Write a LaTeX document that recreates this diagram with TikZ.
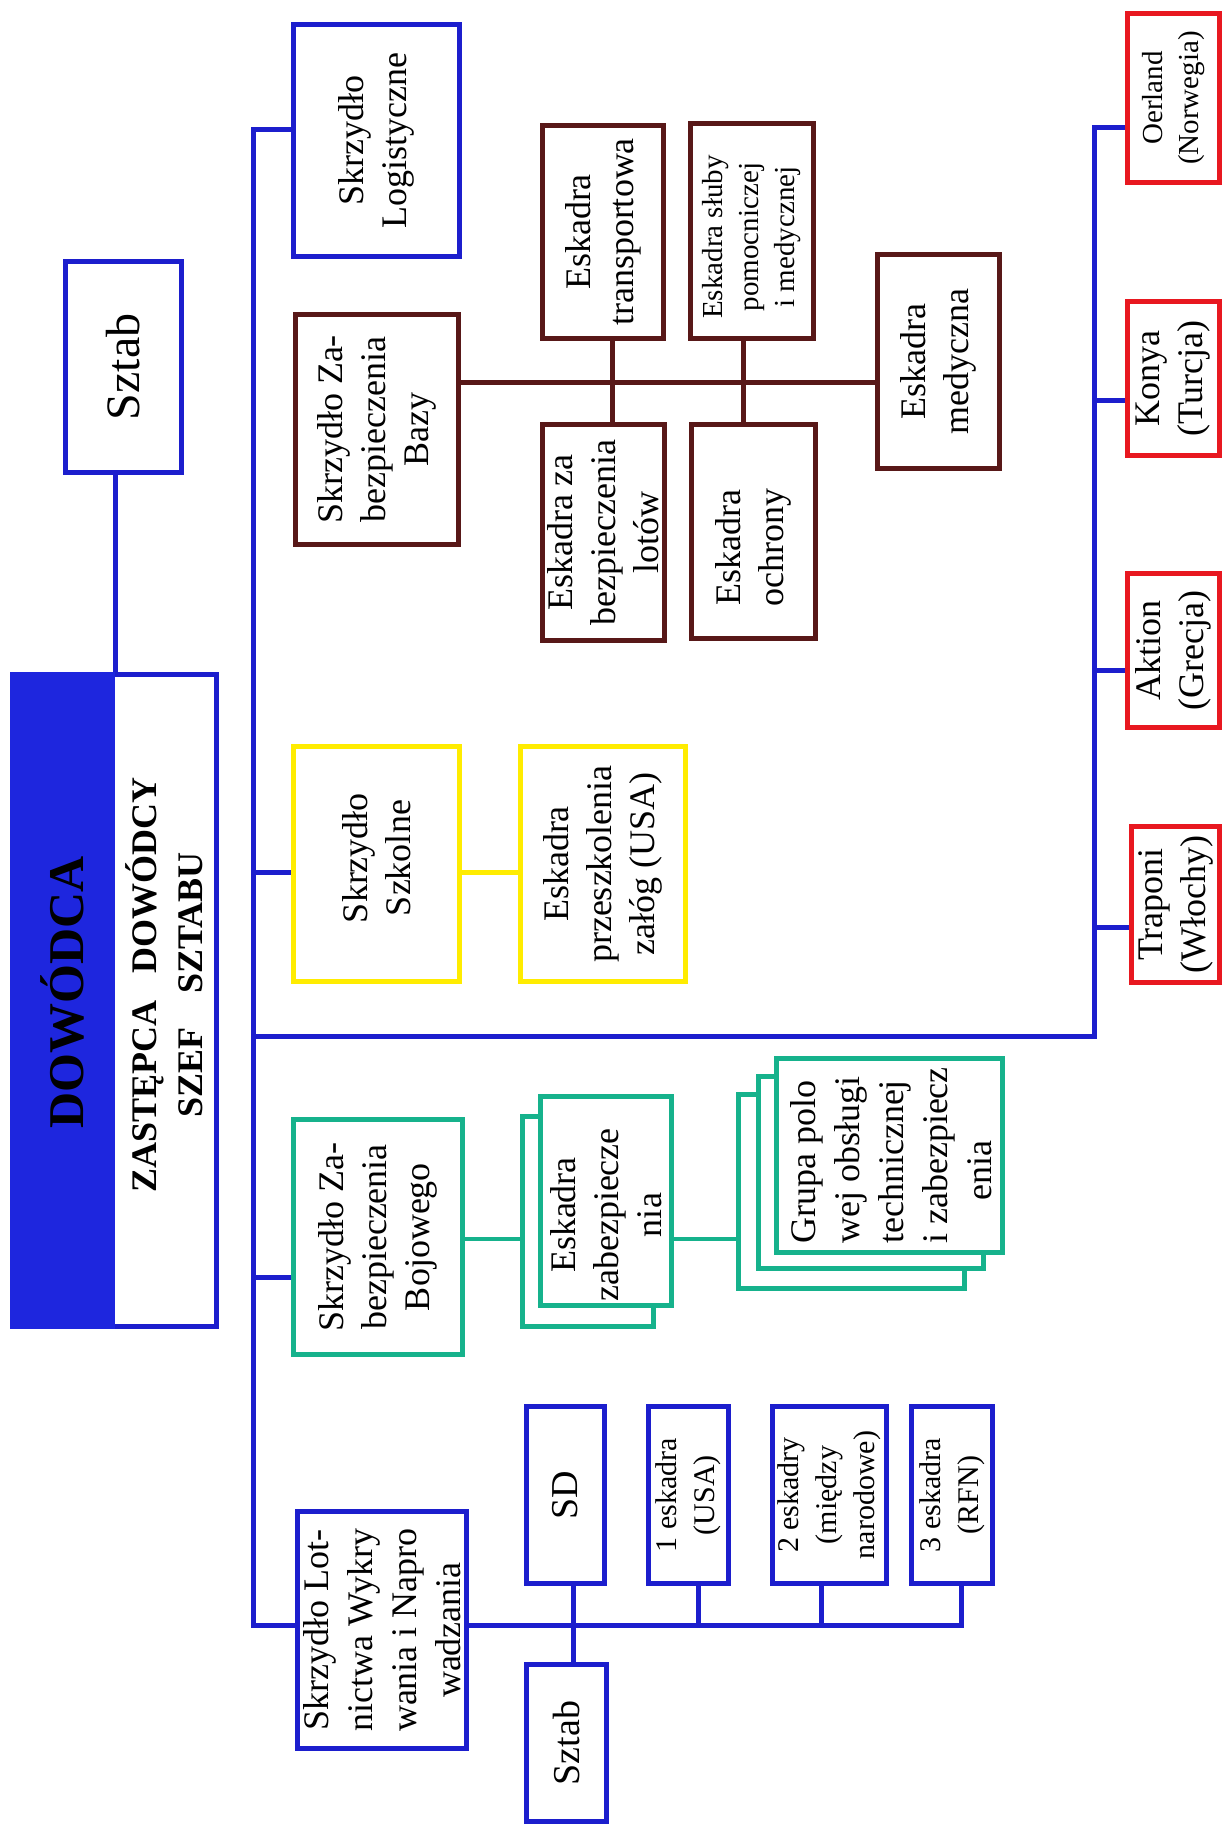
\documentclass[tikz,border=0pt]{standalone}
\usepackage{fontspec}
\setmainfont{Liberation Serif}
\usetikzlibrary{calc}

\definecolor{orgblue}{RGB}{28,30,205}
\definecolor{dowblue}{RGB}{30,38,222}
\definecolor{bazabrown}{RGB}{88,24,24}
\definecolor{szkyellow}{RGB}{255,236,0}
\definecolor{bojteal}{RGB}{22,178,140}
\definecolor{basered}{RGB}{232,24,32}

\tikzset{
  unit/.style={draw, line width=5pt, fill=white, inner sep=0pt},
  bluebox/.style={unit, draw=orgblue},
  brownbox/.style={unit, draw=bazabrown},
  yellowbox/.style={unit, draw=szkyellow},
  tealbox/.style={unit, draw=bojteal, line width=4.5pt},
  redbox/.style={unit, draw=basered},
  dowpart/.style={draw=dowblue, fill=dowblue, line width=5pt, inner sep=0pt},
  lbl/.style={rotate=90, align=center, inner sep=0pt, font=\fontsize{36}{43}\selectfont},
  lblsmall/.style={font=\fontsize{30}{38}\selectfont},
  lbltiny/.style={font=\fontsize{29}{36}\selectfont},
  lblbig/.style={font=\fontsize{48}{56}\selectfont},
  bline/.style={draw=orgblue, line width=5pt},
  brline/.style={draw=bazabrown, line width=5pt},
  yline/.style={draw=szkyellow, line width=5pt},
  tline/.style={draw=bojteal, line width=4pt},
}

% \orgbox{style}{name}{x1}{y1}{x2}{y2}{label style}{text}{label shift}
\newcommand\orgbox[9]{%
  \pgfmathsetmacro\bw{#5-#3-5}%
  \pgfmathsetmacro\bh{#6-#4-5}%
  \node[#1, minimum width=\bw pt, minimum height=\bh pt] (#2) at ({(#3+#5)/2},{(#4+#6)/2}) {};%
  \node[lbl, #7] (#2-t) at ($(#2.center)+(#9)$) {#8};%
}

\begin{document}
\begin{tikzpicture}[x=1pt, y=-1pt]
\useasboundingbox[fill=white] (0,0) rectangle (1226,1828);

% ---- command ----
\orgbox{bluebox}{sztabA}{63}{259}{184}{475}{lblbig}{Sztab}{0,0}
\orgbox{bluebox}{dow}{10}{672}{219}{1329}{}{}{0,0}
\node[dowpart, minimum width=100pt, minimum height=652pt] (dowfill) at (62.5,1000.5) {};
\node[rotate=90, inner sep=0pt, font=\bfseries\fontsize{50}{60}\selectfont] (dowt) at ($(dowfill.center)+(0,-8)$) {DOWÓDCA};
\node[rotate=90, align=center, inner sep=0pt, font=\bfseries\fontsize{36}{46}\selectfont] (zast) at (164,985)
  {ZASTĘPCA\hspace{0.5em} DOWÓDCY\\SZEF\hspace{0.7em} SZTABU};
\draw[bline] (dowfill.north east) -- (dowfill.north east |- sztabA.south);

% ---- wings ----
\orgbox{bluebox}{log}{291}{22}{462}{259}{}{Skrzydło\\Logistyczne}{0,0}

\orgbox{brownbox}{baz}{293}{312}{461}{547}{}{Skrzydło Za-\\bezpieczenia\\Bazy}{0,0}
\orgbox{brownbox}{tra}{540}{123}{666}{341}{}{Eskadra\\transportowa}{0,0}
\orgbox{brownbox}{lotw}{540}{422}{667}{643}{}{Eskadra za\\bezpieczenia\\lotów}{0,0}
\orgbox{brownbox}{slu}{688}{121}{816}{341}{lbltiny}{Eskadra słuby\\pomocniczej\\i medycznej}{0,6}
\orgbox{brownbox}{och}{689}{422}{818}{641}{}{Eskadra\\ochrony}{0,16}
\orgbox{brownbox}{med}{875}{252}{1002}{471}{}{Eskadra\\medyczna}{0,0}

\orgbox{yellowbox}{szk}{291}{744}{462}{984}{}{Skrzydło\\Szkolne}{0,-6}
\orgbox{yellowbox}{prz}{518}{744}{688}{984}{}{Eskadra\\przeszkolenia\\załóg (USA)}{0,0}

\orgbox{tealbox}{boj}{291}{1117}{465}{1357}{}{Skrzydło Za-\\bezpieczenia\\Bojowego}{0,0}
\orgbox{tealbox}{ezbB}{520}{1114}{656}{1329}{}{}{0,0}
\orgbox{tealbox}{ezb}{538}{1094}{674}{1308}{}{Eskadra\\zabezpiecze\\nia}{0,14}
\orgbox{tealbox}{grpC}{736}{1092}{967}{1291}{}{}{0,0}
\orgbox{tealbox}{grpB}{756}{1074}{986}{1271}{}{}{0,0}
\orgbox{tealbox}{grp}{774}{1056}{1005}{1255}{align=left, font=\fontsize{36}{44}\selectfont}%
  {Grupa polo\\wej obsługi\\technicznej\\i zabezpiecz\\\hspace*{43pt}enia}{2,0}

\orgbox{bluebox}{lot}{295}{1509}{469}{1751}{font=\fontsize{36}{44}\selectfont}%
  {Skrzydło Lot-\\nictwa Wykry\\wania i Napro\\wadzania}{0,0}
\orgbox{bluebox}{sd}{524}{1404}{607}{1586}{font=\fontsize{38}{44}\selectfont}{SD}{0,0}
\orgbox{bluebox}{sztabB}{524}{1662}{609}{1824}{font=\fontsize{38}{44}\selectfont}{Sztab}{0,0}
\orgbox{bluebox}{esk1}{646}{1404}{731}{1586}{lblsmall}{1 eskadra\\(USA)}{0,0}
\orgbox{bluebox}{esk2}{770}{1404}{889}{1586}{lblsmall}{2 eskadry\\(między\\narodowe)}{0,0}
\orgbox{bluebox}{esk3}{909}{1404}{995}{1586}{lblsmall}{3 eskadra\\(RFN)}{0,0}

% ---- foreign bases ----
\orgbox{redbox}{oer}{1125}{11}{1222}{185}{lbltiny}{Oerland\\(Norwegia)}{0,0}
\orgbox{redbox}{kon}{1125}{299}{1222}{458}{}{Konya\\(Turcja)}{0,0}
\orgbox{redbox}{akt}{1125}{571}{1222}{730}{}{Aktion\\(Grecja)}{0,0}
\orgbox{redbox}{trp}{1129}{824}{1222}{985}{}{Traponi\\(Włochy)}{0,0}

% ---- main trunk ----
\coordinate (tTop) at (253,129);
\coordinate (tBot) at (253,1625);
\coordinate (jSzk) at (253,872);
\coordinate (jBoj) at (253,1277);
\coordinate (jRight) at (253,1036);
\coordinate (rCorner) at (1094,1036);
\coordinate (rTop) at (1094,127);
\coordinate (jKon) at (1094,400);
\coordinate (jAkt) at (1094,670);
\coordinate (jTrp) at (1094,927);

\draw[bline] (log.west |- tTop) -- (tTop) -- (tBot) -- (tBot -| lot.west);
\draw[bline] (jSzk) -- (jSzk -| szk.west);
\draw[bline] (jBoj) -- (jBoj -| boj.west);
\draw[bline] (jRight) -- (rCorner) -- (rTop) -- (rTop -| oer.west);
\draw[bline] (jKon) -- (jKon -| kon.west);
\draw[bline] (jAkt) -- (jAkt -| akt.west);
\draw[bline] (jTrp) -- (jTrp -| trp.west);

% ---- base support wing ----
\coordinate (bLine) at (600,382);
\coordinate (bv1) at (612,382);
\coordinate (bv2) at (743,382);
\draw[brline] (baz.east |- bLine) -- (med.west |- bLine);
\draw[brline] (bv1 |- tra.south) -- (bv1 |- lotw.north);
\draw[brline] (bv2 |- slu.south) -- (bv2 |- och.north);

% ---- training wing ----
\coordinate (yj) at (490,872);
\draw[yline] (szk.east |- yj) -- (prz.west |- yj);

% ---- combat support wing ----
\coordinate (tj) at (500,1239);
\draw[tline] (boj.east |- tj) -- (ezbB.west |- tj);
\draw[tline] (ezb.east |- tj) -- (grpC.west |- tj);

% ---- early warning wing ----
\coordinate (jSD) at (573,1625);
\coordinate (j1) at (698,1625);
\coordinate (j2) at (821,1625);
\coordinate (j3) at (961,1625);
\draw[bline] (tBot -| lot.east) -- (j3) -- (j3 |- esk3.south);
\draw[bline] (jSD |- sd.south) -- (jSD |- sztabB.north);
\draw[bline] (j1) -- (j1 |- esk1.south);
\draw[bline] (j2) -- (j2 |- esk2.south);
\end{tikzpicture}
\end{document}
